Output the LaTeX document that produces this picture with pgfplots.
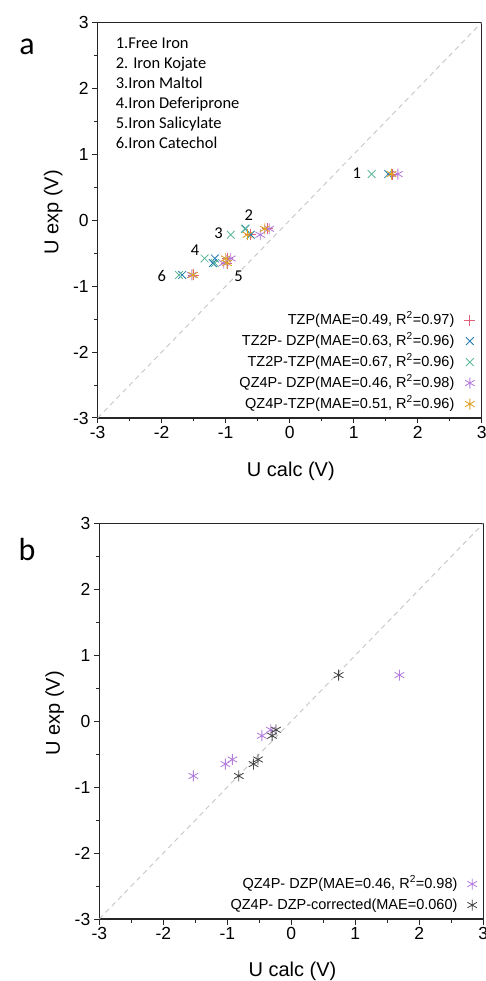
\documentclass[border=0pt]{standalone}
\usepackage{fontspec}
\setmainfont{Liberation Sans}
\newfontfamily\calibri{Carlito}
\usepackage{pgfplots}
\pgfplotsset{compat=1.18}

\definecolor{cTZP}{RGB}{225,95,120}
\definecolor{cTDZ}{RGB}{35,125,175}
\definecolor{cTTZ}{RGB}{95,185,155}
\definecolor{cQDZ}{RGB}{180,125,220}
\definecolor{cQTZ}{RGB}{220,160,35}
\definecolor{cCOR}{RGB}{70,70,70}

% U exp for the six complexes: free, kojate, maltol, deferiprone, salicylate, catechol
\pgfplotstableread{
x y
1.60 0.70
-0.35 -0.13
-0.62 -0.22
-0.97 -0.58
-0.98 -0.65
-1.50 -0.83
}\tzp
\pgfplotstableread{
x y
1.54 0.70
-0.69 -0.13
-0.61 -0.22
-1.17 -0.58
-1.20 -0.65
-1.68 -0.83
}\tzdzp
\pgfplotstableread{
x y
1.28 0.70
-0.70 -0.13
-0.92 -0.22
-1.33 -0.58
-1.17 -0.65
-1.73 -0.83
}\tztzp
\pgfplotstableread{
x y
1.69 0.70
-0.32 -0.13
-0.46 -0.22
-0.92 -0.58
-1.03 -0.65
-1.53 -0.83
}\qdzp
\pgfplotstableread{
x y
1.59 0.70
-0.39 -0.13
-0.66 -0.22
-1.00 -0.58
-0.98 -0.65
-1.51 -0.83
}\qtzp
\pgfplotstableread{
x y
0.74 0.70
-0.24 -0.13
-0.30 -0.22
-0.52 -0.58
-0.59 -0.65
-0.82 -0.83
}\qcor

\pgfplotsset{
  uplot/.style={
    scale only axis, width=384pt, height=395.5pt,
    anchor=south west,
    xmin=-3, xmax=3, ymin=-3, ymax=3,
    xtick={-3,...,3}, ytick={-3,...,3},
    minor tick num=1,
    tick align=outside, tick pos=left,
    major tick length=5.5pt, minor tick length=3.5pt,
    axis line style={line width=1.1pt, black!85},
    every tick/.style={line width=1pt, black!85},
    /pgf/number format/assume math mode=true,
    tick label style={font=\fontsize{17.5}{17.5}\selectfont},
    xticklabel style={inner sep=2.5pt},
    label style={font=\fontsize{20}{20}\selectfont},
    xlabel={U calc (V)}, ylabel={U exp (V)},
    xlabel style={at={(axis description cs:0.503,-0.136)}, anchor=center},
    ylabel style={at={(axis description cs:-0.116,0.52)}, anchor=center},
    legend style={draw=none, fill=none, inner sep=0pt,
      font=\fontsize{14.5}{14.5}\selectfont,
      nodes={text height=11pt, text depth=3pt, inner sep=2pt},
      row sep=3pt, column sep=8pt, anchor=south east,
      at={(axis description cs:0.984,0.012)}},
    legend cell align=right, legend plot pos=right,
  },
  mk/.style={only marks, mark size=5.5pt, mark options={line width=0.85pt}},
}

\begin{document}
\begin{tikzpicture}
\path[use as bounding box] (0,0) rectangle (486pt,981pt);

\begin{axis}[uplot, at={(97.7pt,563pt)}]
\addplot[forget plot, gray!45, line width=0.9pt, dash pattern=on 5pt off 4pt] coordinates {(-3,-3) (3,3)};
\addplot[mk, color=cTZP, mark=+] table {\tzp};
\addlegendentry{TZP(MAE=0.49, R\textsuperscript{2}=0.97)}
\addplot[mk, color=cTDZ, mark=x] table {\tzdzp};
\addlegendentry{TZ2P- DZP(MAE=0.63, R\textsuperscript{2}=0.96)}
\addplot[mk, color=cTTZ, mark=x] table {\tztzp};
\addlegendentry{TZ2P-TZP(MAE=0.67, R\textsuperscript{2}=0.96)}
\addplot[mk, color=cQDZ, mark=asterisk] table {\qdzp};
\addlegendentry{QZ4P- DZP(MAE=0.46, R\textsuperscript{2}=0.98)}
\addplot[mk, color=cQTZ, mark=asterisk] table {\qtzp};
\addlegendentry{QZ4P-TZP(MAE=0.51, R\textsuperscript{2}=0.96)}

\begin{scope}[every node/.style={font=\calibri\fontsize{16.5}{16.5}\selectfont, inner sep=0pt}]
\node[anchor=base west] at (axis cs:-2.72,2.611) {1.Free Iron};
\node[anchor=base west] at (axis cs:-2.72,2.307) {2. Iron Kojate};
\node[anchor=base west] at (axis cs:-2.72,2.002) {3.Iron Maltol};
\node[anchor=base west] at (axis cs:-2.72,1.697) {4.Iron Deferiprone};
\node[anchor=base west] at (axis cs:-2.72,1.392) {5.Iron Salicylate};
\node[anchor=base west] at (axis cs:-2.72,1.086) {6.Iron Catechol};
\node at (axis cs:1.05,0.72) {1};
\node at (axis cs:-0.64,0.08) {2};
\node at (axis cs:-1.11,-0.19) {3};
\node at (axis cs:-1.48,-0.46) {4};
\node at (axis cs:-0.80,-0.85) {5};
\node at (axis cs:-2.00,-0.84) {6};
\end{scope}
\end{axis}

\begin{axis}[uplot, at={(99.3pt,62pt)},
  xlabel style={at={(axis description cs:0.503,-0.133)}}]
\addplot[forget plot, gray!45, line width=0.9pt, dash pattern=on 5pt off 4pt] coordinates {(-3,-3) (3,3)};
\addplot[mk, color=cQDZ, mark=asterisk] table {\qdzp};
\addlegendentry{QZ4P- DZP(MAE=0.46, R\textsuperscript{2}=0.98)}
\addplot[mk, color=cCOR, mark=asterisk] table {\qcor};
\addlegendentry{QZ4P- DZP-corrected(MAE=0.060)}
\end{axis}

\node[font=\calibri\fontsize{32}{32}\selectfont] at (27pt,934pt) {a};
\node[font=\calibri\fontsize{32}{32}\selectfont] at (27pt,431pt) {b};
\end{tikzpicture}
\end{document}
